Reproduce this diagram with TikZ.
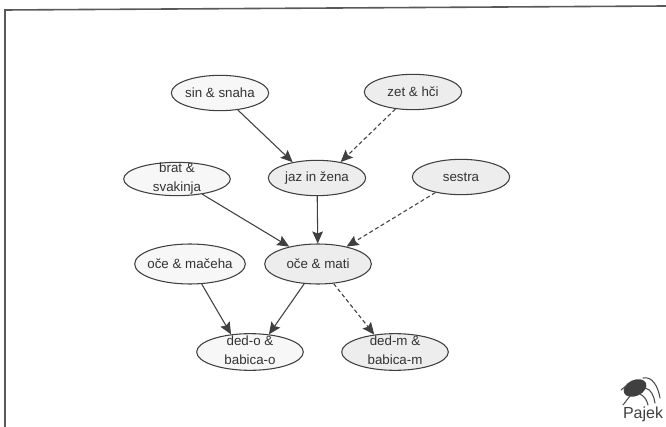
\documentclass[tikz,border=0pt]{standalone}
\usepackage{fontspec}
\setmainfont{Liberation Sans}
\usetikzlibrary{shapes.geometric, arrows.meta}
\definecolor{paleone}{gray}{0.97}
\definecolor{paletwo}{gray}{0.93}
\definecolor{framegray}{gray}{0.35}
\definecolor{edgegray}{gray}{0.25}
\newcommand{\oneline}[1]{\makebox[0pt]{#1}}
\newcommand{\twolines}[2]{\makebox[0pt]{\smash{\raisebox{-2.5pt}{\begin{tabular}{@{}c@{}}#1\\[1.9pt]#2\end{tabular}}}}}
\tikzset{ v/.style = { ellipse
                       , draw = edgegray
                       , thick
                       , fill = paleone
                       , inner sep    = 0pt
                       , minimum width  = 73pt
                       , minimum height = 26.5pt
                       , font = \fontsize{10}{12}\selectfont
                       , text = black!80
                       },
            w/.style = { v
            , fill = paletwo
            },
            e/.style = { -{Stealth[length=9pt,width=8pt,inset=1.5pt]}
            , draw = edgegray
            , thick
            },
            d/.style = { e
            , densely dashed
            }
          }

\begin{document}
\begin{tikzpicture}[x=0.75pt,y=-0.75pt]
    \useasboundingbox (0,0) rectangle (666,427);
    \draw[framegray, very thick] (5,427) -- (5,10) -- (666,6);
    \node[v] (sin) at (220,93) {\oneline{sin \& snaha}};
    \node[w] (zet) at (413,92) {\oneline{zet \& hči}};
    \node[w] (jaz) at (317,178) {\oneline{jaz in žena}};
    \node[v, minimum width=80pt, minimum height=25pt] (brat) at (177,179) {\twolines{brat \&}{svakinja}};
    \node[w] (sestra) at (461,177) {\oneline{sestra}};
    \node[v, minimum width=83pt, minimum height=30pt] (ocem) at (190,264) {\oneline{oče \& mačeha}};
    \node[w, minimum width=80pt, minimum height=30pt] (oce) at (318,264) {\oneline{oče \& mati}};
    \node[v, minimum width=80pt, minimum height=27.5pt] (dedo) at (250,352) {\twolines{ded-o \&}{babica-o}};
    \node[w, minimum width=80pt, minimum height=27.5pt] (dedm) at (395,352) {\twolines{ded-m \&}{babica-m}};

    \draw[e] (sin) -- (jaz.147);
    \draw[d] (zet) -- (jaz.34);
    \draw[e] (jaz) -- (oce);
    \draw[e] (brat) -- (oce);
    \draw[d] (sestra) -- (oce);
    \draw[e] (ocem) -- (dedo.137);
    \draw[e] (oce) -- (dedo.43);
    \draw[d] (oce) -- (dedm.140);

    % logo
    \fill[black!75, rotate around={25:(635,388)}] (635,388) ellipse (12 and 8);
    \draw[black!70, thick, line cap=round] (643,378) .. controls (652,376) and (658,386) .. (660,398);
    \draw[black!70, thick, line cap=round] (645,388) .. controls (651,389) and (654,396) .. (655,403);
    \draw[black!70, thick, line cap=round] (640,394) .. controls (644,396) and (647,400) .. (648,405);
    \draw[black!70, thick, line cap=round] (630,396) -- (623,405);
    \draw[black!70, thick, line cap=round] (626,386) -- (621,390);
    \node[inner sep=0pt, font=\fontsize{12}{14}\selectfont, text=black!75] (pajek) at (643,414) {Pajek};
\end{tikzpicture}
\end{document}
